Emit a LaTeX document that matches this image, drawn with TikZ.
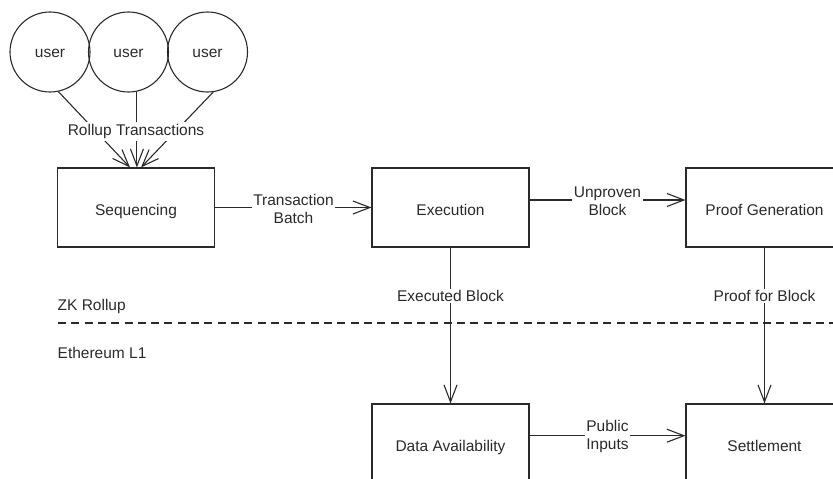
\documentclass[tikz,border=0pt]{standalone}
\usepackage{fontspec}
\setmainfont{Liberation Sans}
\usetikzlibrary{arrows.meta}
\definecolor{ink}{HTML}{2A2A2A}
\begin{document}
\begin{tikzpicture}[x=1pt,y=-1pt,
  font=\fontsize{15.5}{17.6}\selectfont,
  every node/.style={text=ink},
  boxnode/.style={draw=ink, line width=1.1pt, minimum width=157pt, minimum height=79pt,
    inner sep=0pt, text height=15pt, text depth=0pt},
  usernode/.style={circle, draw=ink, line width=1.1pt, minimum size=80pt, inner sep=0pt,
    text height=10.6pt, text depth=0pt},
  lbl/.style={fill=white, inner xsep=1.5pt, inner ysep=1.5pt, align=center},
  conn/.style={draw=ink, line width=1.1pt, -{Straight Barb[length=17pt,width=13pt]}},
  sep/.style={draw=ink, line width=1.1pt, dash pattern=on 8pt off 5.3pt}
]
\useasboundingbox (0,0) rectangle (833,479);
\clip (0,0) rectangle (833,479);

% users
\node[usernode] (u1) at (50,52) {user};
\node[usernode] (u2) at (128.5,52) {user};
\node[usernode] (u3) at (207.5,52) {user};

% boxes
\node[boxnode] (seq) at (136,207.5) {Sequencing};
\node[boxnode] (exe) at (450.5,207.5) {Execution};
\node[boxnode] (prf) at (764.5,207.5) {Proof Generation};
\node[boxnode] (da)  at (450.5,443.5) {Data Availability};
\node[boxnode] (set) at (764.5,443.5) {Settlement};

% layer separator
\coordinate (sepL) at (58,323);
\coordinate (sepR) at (840,323);
\draw[sep] (sepL) -- (sepR);
\node[anchor=base west, inner sep=0pt] (zk) at (57.5,310.5) {ZK Rollup};
\node[anchor=base west, inner sep=0pt] (eth) at (57.5,358.3) {Ethereum L1};

% user transactions
\draw[conn] (u1.-78) -- ([xshift=-6pt]seq.north);
\draw[conn] (u2.-78) -- (u2.-78 |- seq.north);
\draw[conn] (u3.-82) -- ([xshift=5pt]seq.north);
\node[lbl, anchor=base, inner ysep=2pt] (lrt) at (136,135.3) {Rollup Transactions};

% flow
\draw[conn] (seq.east) -- (exe.west);
\node[lbl] (ltb) at (293.5,209) {Transaction\\Batch};

\draw[conn] ([yshift=7.5pt]exe.east) -- ([yshift=7.5pt]prf.west);
\node[lbl] (lub) at (607.5,201.2) {Unproven\\Block};

\draw[conn] (exe.south) -- (da.north);
\node[lbl, anchor=base] (leb) at (450.5,301.5) {Executed Block};

\draw[conn] (prf.south) -- (set.north);
\node[lbl, anchor=base] (lpb) at (764.5,301.5) {Proof for Block};

\draw[conn] ([yshift=7.8pt]da.east) -- ([yshift=7.8pt]set.west);
\node[lbl] (lpi) at (607.5,436.6) {Public\\Inputs};
\end{tikzpicture}
\end{document}
